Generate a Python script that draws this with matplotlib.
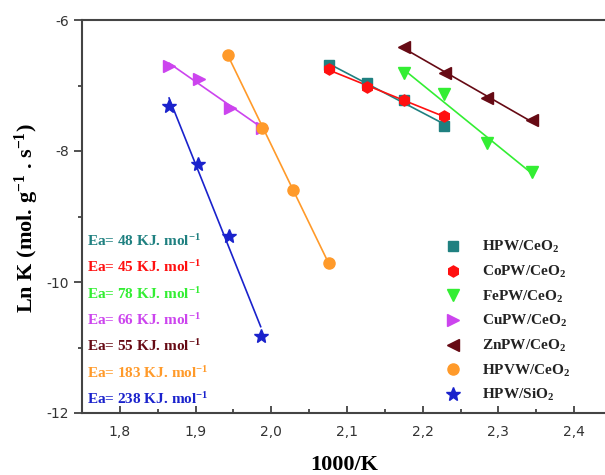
import numpy as np
import matplotlib
matplotlib.use("Agg")
import matplotlib.pyplot as plt
from matplotlib.ticker import MultipleLocator, FuncFormatter

plt.rcParams['mathtext.default'] = 'regular'

# 1000/T values and ln K
names = ["HPW/CeO$_2$", "CoPW/CeO$_2$", "FePW/CeO$_2$", "CuPW/CeO$_2$",
         "ZnPW/CeO$_2$", "HPVW/CeO$_2$", "HPW/SiO$_2$"]
x_hpw = [2.076, 2.126, 2.175, 2.228]
y_hpw = [-6.69, -6.96, -7.22, -7.62]
x_co = [2.076, 2.126, 2.175, 2.228]
y_co = [-6.75, -7.02, -7.22, -7.47]
x_fe = [2.175, 2.228, 2.285, 2.344]
y_fe = [-6.81, -7.13, -7.88, -8.32]
x_cu = [1.865, 1.905, 1.945, 1.988]
y_cu = [-6.70, -6.90, -7.34, -7.65]
x_zn = [2.175, 2.229, 2.285, 2.344]
y_zn = [-6.41, -6.81, -7.19, -7.53]
x_hpvw = [1.943, 1.988, 2.029, 2.076]
y_hpvw = [-6.53, -7.65, -8.60, -9.71]
x_si = [1.865, 1.903, 1.944, 1.986]
y_si = [-7.31, -8.20, -9.30, -10.82]
ea_values = [48, 45, 78, 66, 55, 183, 238]

xs = [x_hpw, x_co, x_fe, x_cu, x_zn, x_hpvw, x_si]
ys = [y_hpw, y_co, y_fe, y_cu, y_zn, y_hpvw, y_si]
colors = ["#1f8080", "#ff1010", "#33ee33", "#cc44ee", "#660a14", "#ff9a2a", "#1a22cc"]
markers = ["s", "h", "v", ">", "<", "o", "*"]
sizes = [7, 8, 8, 8, 8, 8, 10]

fig = plt.figure(figsize=(6.05, 4.75), dpi=100)
ax = fig.add_axes([82/605, 62/475, 530/605, 393/475])

for x, y, c, m, s, n in zip(xs, ys, colors, markers, sizes, names):
    k, b = np.polyfit(x, y, 1)
    xx = np.array([min(x), max(x)])
    ax.plot(xx, k*xx + b, color=c, lw=1.2, zorder=2)
    ax.plot(x, y, ls='none', marker=m, ms=s, color=c, mec=c, label=n, zorder=3)

ax.set_xlim(1.75, 2.45)
ax.set_ylim(-12, -6)
ax.xaxis.set_major_locator(MultipleLocator(0.1))
ax.xaxis.set_minor_locator(MultipleLocator(0.05))
ax.yaxis.set_major_locator(MultipleLocator(2))
ax.yaxis.set_minor_locator(MultipleLocator(1))
ax.xaxis.set_major_formatter(FuncFormatter(lambda v, p: f"{v:.1f}".replace(".", ",")))
ax.yaxis.set_major_formatter(FuncFormatter(lambda v, p: f"{v:.0f}"))
ax.tick_params(axis='x', which='both', direction='in', colors='#333333', labelsize=10, pad=9)
ax.tick_params(axis='x', which='major', length=5, width=1.2)
ax.tick_params(axis='x', which='minor', length=3, width=1.2)
ax.tick_params(axis='y', which='both', direction='out', colors='#333333', labelsize=10)
ax.tick_params(axis='y', which='major', length=6, width=1.2)
ax.tick_params(axis='y', which='minor', length=3, width=1.2)
for sp in ['left', 'bottom', 'top']:
    ax.spines[sp].set_color('#444444')
    ax.spines[sp].set_linewidth(1.5)
ax.spines['right'].set_visible(False)

ax.set_xlabel("1000/K", family='Liberation Serif', weight='bold', fontsize=16)
ax.xaxis.set_label_coords((344 - 82) / 530, -(465 - 413) / 393)
ax.xaxis.label.set_va('center')
ax.set_ylabel("Ln K (mol. g$^{-1}$ . s$^{-1}$)", family='Liberation Serif',
              weight='bold', fontsize=16)
ax.yaxis.set_label_coords(-(82 - 27) / 530, 1 - (218 - 20) / 393)
ax.yaxis.label.set_va('center')

for i, (e, c) in enumerate(zip(ea_values, colors)):
    ax.text(0.01, 0.4377 - i*0.067, f"Ea= {e} KJ. mol$^{{-1}}$", transform=ax.transAxes,
            color=c, family='Liberation Serif', weight='bold', fontsize=11, va='center')

leg = ax.legend(loc='upper left', bbox_to_anchor=(0.66, 0.477), frameon=False,
                prop={'family': 'Liberation Serif', 'weight': 'bold', 'size': 11},
                handlelength=1.0, handletextpad=1.4, labelspacing=0.56)
for t in leg.get_texts():
    t.set_color('#222222')

fig.savefig("out.png", dpi=100)
